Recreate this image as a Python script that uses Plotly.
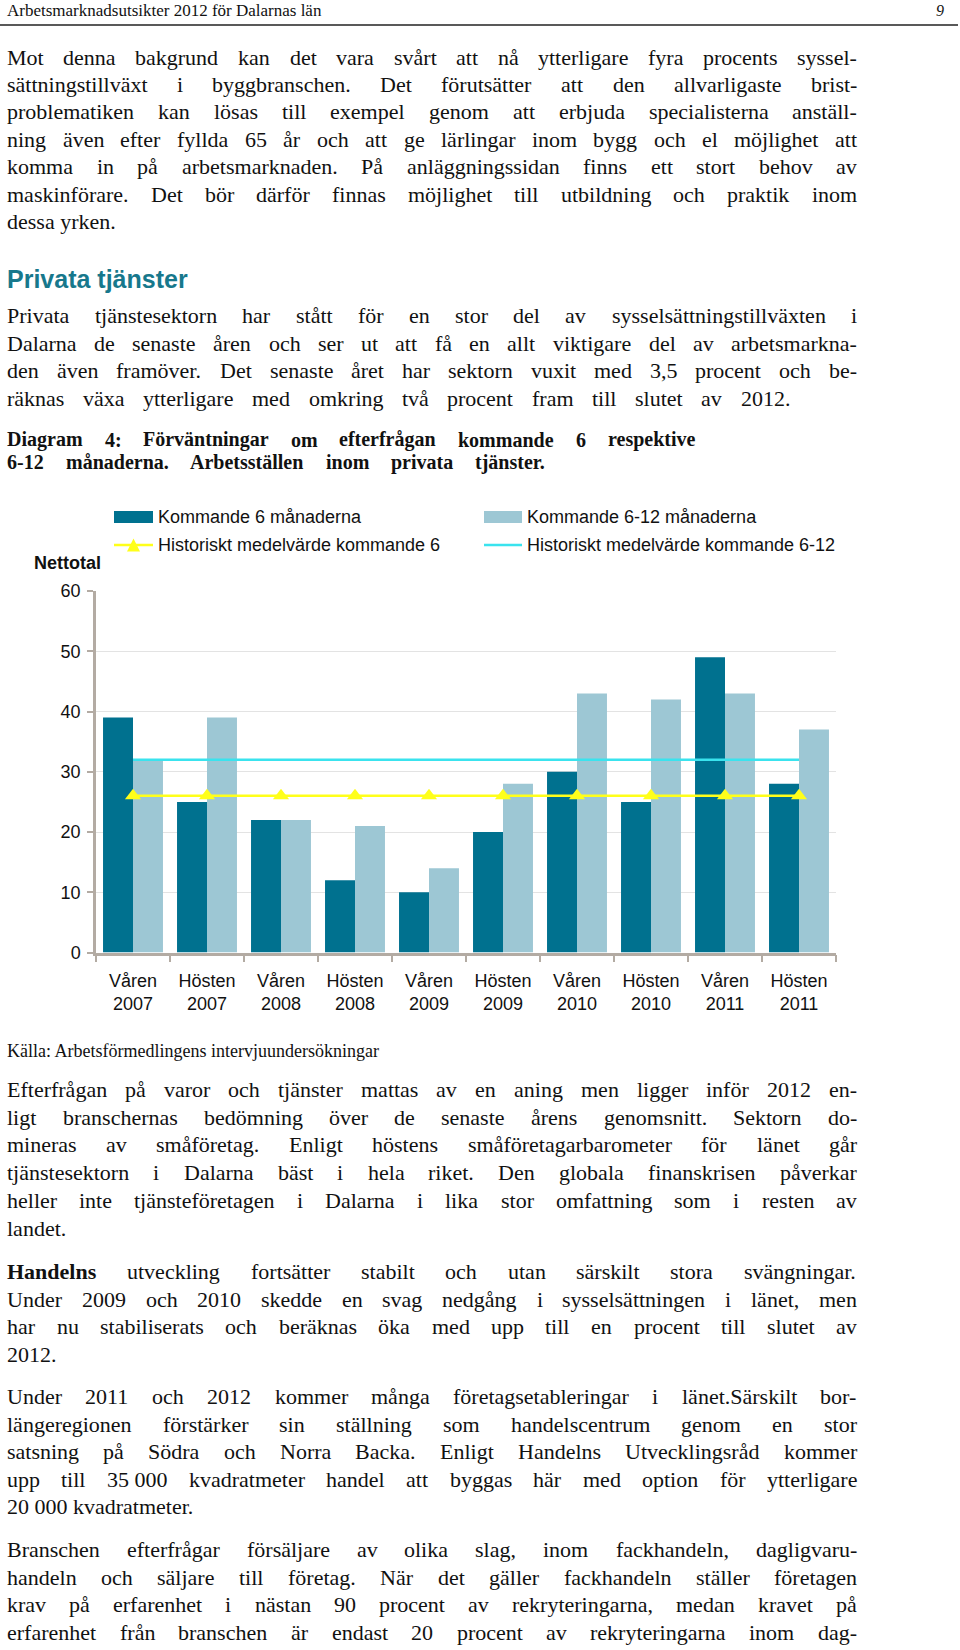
import plotly.graph_objects as go

# ---------------- chart data ----------------
periods = ["Våren<br>2007", "Hösten<br>2007", "Våren<br>2008", "Hösten<br>2008", "Våren<br>2009",
           "Hösten<br>2009", "Våren<br>2010", "Hösten<br>2010", "Våren<br>2011", "Hösten<br>2011"]
kommande_6 = [39, 25, 22, 12, 10, 20, 30, 25, 49, 28]
kommande_6_12 = [32, 39, 22, 21, 14, 28, 43, 42, 43, 37]
hist_medel_6 = [26, 26, 26, 26, 26, 26, 26, 26, 26, 26]
hist_medel_6_12 = [32, 32, 32, 32, 32, 32, 32, 32, 32, 32]
y_ticks = [0, 10, 20, 30, 40, 50, 60]
series_names = ["Kommande 6 månaderna", "Kommande 6-12 månaderna",
                "Historiskt medelvärde kommande 6", "Historiskt medelvärde kommande 6-12"]
y_title = "Nettotal"

# ---------------- page text ----------------
header_text = "Arbetsmarknadsutsikter 2012 för Dalarnas län"
page_number = "9"
para1 = [
    "Mot denna bakgrund kan det vara svårt att nå ytterligare fyra procents syssel-",
    "sättningstillväxt i byggbranschen. Det förutsätter att den allvarligaste brist-",
    "problematiken kan lösas till exempel genom att erbjuda specialisterna anställ-",
    "ning även efter fyllda 65 år och att ge lärlingar inom bygg och el möjlighet att",
    "komma in på arbetsmarknaden. På anläggningssidan finns ett stort behov av",
    "maskinförare. Det bör därför finnas möjlighet till utbildning och praktik inom",
    "dessa yrken.",
]
heading = "Privata tjänster"
para2 = [
    "Privata tjänstesektorn har stått för en stor del av sysselsättningstillväxten i",
    "Dalarna de senaste åren och ser ut att få en allt viktigare del av arbetsmarkna-",
    "den även framöver. Det senaste året har sektorn vuxit med 3,5 procent och be-",
    "räknas växa ytterligare med omkring två procent fram till slutet av 2012.",
]
caption = [
    "Diagram 4: Förväntningar om efterfrågan kommande 6 respektive",
    "6-12 månaderna. Arbetsställen inom privata tjänster.",
]
source = "Källa: Arbetsförmedlingens intervjuundersökningar"
para3 = [
    "Efterfrågan på varor och tjänster mattas av en aning men ligger inför 2012 en-",
    "ligt branschernas bedömning över de senaste årens genomsnitt. Sektorn do-",
    "mineras av småföretag. Enligt höstens småföretagarbarometer för länet går",
    "tjänstesektorn i Dalarna bäst i hela riket. Den globala finanskrisen påverkar",
    "heller inte tjänsteföretagen i Dalarna i lika stor omfattning som i resten av",
    "landet.",
]
para4 = [
    "Handelns utveckling fortsätter stabilt och utan särskilt stora svängningar.",
    "Under 2009 och 2010 skedde en svag nedgång i sysselsättningen i länet, men",
    "har nu stabiliserats och beräknas öka med upp till en procent till slutet av",
    "2012.",
]
para5 = [
    "Under 2011 och 2012 kommer många företagsetableringar i länet.Särskilt bor-",
    "längeregionen förstärker sin ställning som handelscentrum genom en stor",
    "satsning på Södra och Norra Backa. Enligt Handelns Utvecklingsråd kommer",
    "upp till 35\u00a0000 kvadratmeter handel att byggas här med option för ytterligare",
    "20\u00a0000 kvadratmeter.",
]
para6 = [
    "Branschen efterfrågar försäljare av olika slag, inom fackhandeln, dagligvaru-",
    "handeln och säljare till företag. När det gäller fackhandeln ställer företagen",
    "krav på erfarenhet i nästan 90 procent av rekryteringarna, medan kravet på",
    "erfarenhet från branschen är endast 20 procent av rekryteringarna inom dag-",
]

# ---------------- styling ----------------
W, H = 960, 1650
SERIF = "Liberation Serif, Times New Roman, serif"
SANS = "Liberation Sans, Arial, sans-serif"
TXT = "#111111"
DARK = "#00718F"
LIGHT = "#9DC7D4"
YELLOW = "#FFFF1A"
CYAN = "#3AE3EE"
AXIS = "#B3ABA3"
GRID = "#E3E3E3"
TEAL = "#17788C"


def _tbl(groups):
    d = {}
    for w, chars in groups.items():
        for c in chars:
            d[c] = w
    return d


REG = _tbl({250: " ,.\u00a0", 278: "ijlt:;", 333: "fr-I()", 389: "sJ", 444: "acezåäé",
            500: "bdghknopquvxyö0123456789", 556: "FPS", 611: "ELTZ", 667: "BCR",
            722: "ADGHKNOQUVXYwÅÄÖ", 778: "m", 889: "M", 944: "W"})
BOLD = _tbl({250: " ,.\u00a0", 278: "il", 333: "jft:;-()", 389: "sI", 444: "cerz",
             500: "aogvxyJåäö0123456789", 556: "bdhknpquS", 611: "FP", 667: "BELTZ",
             722: "ACDNRUVXYwÄÅ", 778: "GHKOQÖ", 833: "m", 944: "M", 1000: "W"})


def tw(s, size, bold=False):
    t = BOLD if bold else REG
    return sum(t.get(c, 500) for c in s) * size / 1000.0


annotations = []
shapes = []


def px(x):
    return x / W


def py(y):
    return 1 - y / H


def ann(text, x, y, size, family=SERIF, color=TXT, xanchor="left"):
    annotations.append(dict(text=text, x=px(x), y=py(y), xref="paper", yref="paper",
                            xanchor=xanchor, yanchor="middle", showarrow=False,
                            font=dict(family=family, size=size, color=color)))


def line_out(line, y, size, right=None, bold=False, bold_first=False, max_extra=None, x0=5):
    words = line.split(" ")
    if right is None or len(words) == 1:
        txt = f"<b>{line}</b>" if bold else line
        ann(txt, x0, y, size)
        return
    ws = [tw(w, size, bold or (bold_first and i == 0)) for i, w in enumerate(words)]
    space = tw(" ", size, bold)
    gap = (right - x0 - sum(ws)) / (len(words) - 1)
    if max_extra is not None:
        gap = min(gap, space + max_extra)
    x = x0
    for i, w in enumerate(words):
        b = bold or (bold_first and i == 0)
        ann(f"<b>{w}</b>" if b else w, x, y, size)
        x += ws[i] + gap


BODY = 22
RIGHT = 855


def paragraph(lines, y0, step=27.5, last_right=None, bold_first=False):
    for i, ln in enumerate(lines):
        last = i == len(lines) - 1
        r = last_right if last else RIGHT
        line_out(ln, y0 + i * step, BODY, right=r, bold_first=(bold_first and i == 0))


# header
ann(header_text, 5, 10, 17)
ann(f"<i>{page_number}</i>", 946, 10, 16, xanchor="right")
shapes.append(dict(type="line", xref="paper", yref="paper", x0=0, x1=px(958), y0=py(25), y1=py(25),
                   line=dict(color="#222222", width=1.5)))

paragraph(para1, 57)
ann(f"<b>{heading}</b>", 5, 279, 25, family=SANS, color=TEAL)
paragraph(para2, 315.5, last_right=788)
line_out(caption[0], 439.5, 20, right=763, bold=True, max_extra=17)
line_out(caption[1], 462.5, 20, right=612, bold=True, max_extra=17)
ann(source, 5, 1051, 18)
paragraph(para3, 1089.5, step=27.7)
paragraph(para4, 1271.5, bold_first=True)
paragraph(para5, 1396.5)
paragraph(para6, 1549.5, last_right=RIGHT)

# ---------------- manual legend ----------------
LEG = 18
shapes.append(dict(type="rect", xref="paper", yref="paper", x0=px(114), x1=px(153), y0=py(523), y1=py(511),
                   fillcolor=DARK, line=dict(width=0)))
shapes.append(dict(type="rect", xref="paper", yref="paper", x0=px(484), x1=px(522), y0=py(523), y1=py(511),
                   fillcolor=LIGHT, line=dict(width=0)))
shapes.append(dict(type="line", xref="paper", yref="paper", x0=px(114), x1=px(153), y0=py(545), y1=py(545),
                   line=dict(color=YELLOW, width=2.5)))
tri = f"M {px(127)},{py(551.5)} L {px(140)},{py(551.5)} L {px(133.5)},{py(538.5)} Z"
shapes.append(dict(type="path", xref="paper", yref="paper", path=tri, fillcolor=YELLOW, line=dict(width=0)))
shapes.append(dict(type="line", xref="paper", yref="paper", x0=px(484), x1=px(522), y0=py(545), y1=py(545),
                   line=dict(color=CYAN, width=2.5)))
ann(series_names[0], 156, 517, LEG, family=SANS)
ann(series_names[1], 525, 517, LEG, family=SANS)
ann(series_names[2], 156, 545, LEG, family=SANS)
ann(series_names[3], 525, 545, LEG, family=SANS)
ann(f"<b>{y_title}</b>", 32, 563, LEG, family=SANS)

# ---------------- chart ----------------
fig = go.Figure()
fig.add_bar(x=periods, y=kommande_6, name=series_names[0], marker=dict(color=DARK, line=dict(width=0)),
            showlegend=False)
fig.add_bar(x=periods, y=kommande_6_12, name=series_names[1], marker=dict(color=LIGHT, line=dict(width=0)),
            showlegend=False)
fig.add_scatter(x=periods, y=hist_medel_6, name=series_names[2], mode="lines+markers",
                line=dict(color=YELLOW, width=2.5),
                marker=dict(symbol="triangle-up", size=14, color=YELLOW), showlegend=False)
fig.add_scatter(x=periods, y=hist_medel_6_12, name=series_names[3], mode="lines",
                line=dict(color=CYAN, width=2.5), showlegend=False)

fig.update_layout(
    width=W, height=H, autosize=False,
    margin=dict(l=0, r=0, t=0, b=0, pad=0, autoexpand=False),
    paper_bgcolor="white", plot_bgcolor="white",
    barmode="group", bargap=0.19, bargroupgap=0,
    showlegend=False,
    annotations=annotations, shapes=shapes,
    xaxis=dict(domain=[px(96), px(836)], range=[-0.5, 9.5], automargin=False,
               showline=True, linecolor=AXIS, linewidth=2.5,
               ticks="outside", tickson="boundaries", ticklen=7, tickwidth=2, tickcolor=AXIS,
               tickfont=dict(family=SANS, size=LEG, color=TXT), ticklabelstandoff=10,
               showgrid=False, zeroline=False, fixedrange=True),
    yaxis=dict(domain=[py(952.5), py(591)], range=[0, 60], tickvals=y_ticks, automargin=False,
               showline=True, linecolor=AXIS, linewidth=2.5,
               ticks="outside", ticklen=6, tickwidth=2, tickcolor=AXIS,
               tickfont=dict(family=SANS, size=LEG, color=TXT), ticklabelstandoff=3,
               showgrid=True, gridcolor=GRID, gridwidth=1, zeroline=False, fixedrange=True),
)

fig.write_html("out.html", config={"displayModeBar": False},
               post_script="document.body.style.margin='0';document.body.style.overflow='hidden';")
